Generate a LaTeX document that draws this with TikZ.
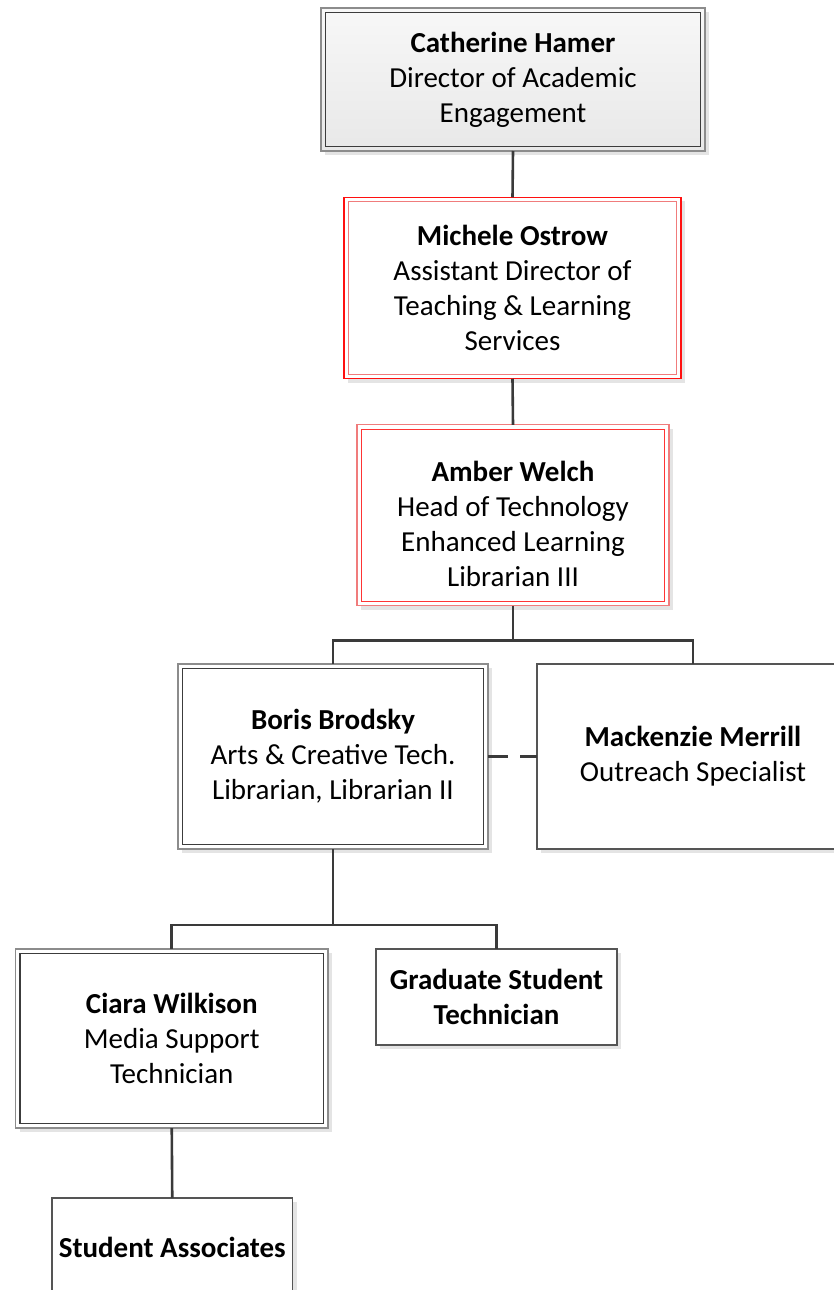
\documentclass[tikz,border=0pt]{standalone}
\usepackage{fontspec}
\setmainfont{Carlito}
\usetikzlibrary{shadows}
\definecolor{lineC}{HTML}{3A3A3A}
\definecolor{outerG}{HTML}{8C8C8C}
\definecolor{innerG}{HTML}{3C3C3C}
\definecolor{singleG}{HTML}{555555}
\definecolor{shadowC}{HTML}{E4E4E4}
\definecolor{redA}{HTML}{FF1010}
\definecolor{redB}{HTML}{F07C7C}
\begin{document}
\begin{tikzpicture}[x=1pt,y=-1pt,
  box/.style={rectangle, inner sep=0pt, outer sep=0pt, fill=white,
    drop shadow={shadow xshift=4pt, shadow yshift=-4pt, fill=shadowC, opacity=1}},
  graybox/.style={box, draw=outerG, line width=1.3pt},
  redbox/.style={box, draw=#1, line width=1.3pt},
  singlebox/.style={box, draw=singleG, line width=1.2pt},
  innerline/.style={draw=#1, line width=1.2pt},
  txt/.style={align=center, font=\fontsize{29}{35}\selectfont, inner sep=0pt},
  conn/.style={draw=lineC, line width=2.6pt},
  dashconn/.style={conn, dash pattern=on 20pt off 12pt}]
\useasboundingbox (0,0) rectangle (833,1290);

% boxes
\node[graybox, top color=black!3, bottom color=black!9, minimum width=384, minimum height=143] (cath) at (513,79.5) {};
\node[redbox=redA, minimum width=337, minimum height=181.5] (mich) at (512.5,288) {};
\node[redbox=redB, minimum width=312, minimum height=181] (amber) at (513,515.3) {};
\node[graybox, minimum width=310, minimum height=185] (boris) at (333,756.5) {};
\node[singlebox, minimum width=312, minimum height=185] (mack) at (693,756.5) {};
\node[graybox, minimum width=312.5, minimum height=179] (ciara) at (171.75,1038.5) {};
\node[singlebox, minimum width=241, minimum height=96] (grad) at (496.5,997) {};
\node[singlebox, minimum width=240.5, minimum height=98] (stud) at (172.25,1247) {};

% inner borders
\draw[innerline=innerG] ([shift={(4.5,4.5)}]cath.north west) rectangle ([shift={(-4.5,-4.5)}]cath.south east);
\draw[innerline=redB] ([shift={(4.5,4.5)}]mich.north west) rectangle ([shift={(-4.5,-4.5)}]mich.south east);
\draw[innerline=redA!85] ([shift={(4.5,4.5)}]amber.north west) rectangle ([shift={(-4.5,-4.5)}]amber.south east);
\draw[innerline=innerG] ([shift={(4.5,4.5)}]boris.north west) rectangle ([shift={(-4.5,-4.5)}]boris.south east);
\draw[innerline=innerG] ([shift={(4.5,4.5)}]ciara.north west) rectangle ([shift={(-4.5,-4.5)}]ciara.south east);

% texts
\node[txt] (cath-t) at (cath) {\textbf{Catherine Hamer}\\Director of Academic\\Engagement};
\node[txt] (mich-t) at (mich) {\textbf{Michele Ostrow}\\Assistant Director of\\Teaching \& Learning\\Services};
\node[txt, yshift=-9pt] (amber-t) at (amber) {\textbf{Amber Welch}\\Head of Technology\\Enhanced Learning\\Librarian III};
\node[txt] (boris-t) at (boris) {\textbf{Boris Brodsky}\\Arts \& Creative Tech.\\Librarian, Librarian II};
\node[txt] (mack-t) at (mack) {\textbf{Mackenzie Merrill}\\Outreach Specialist};
\node[txt] (ciara-t) at (ciara) {\textbf{Ciara Wilkison}\\Media Support\\Technician};
\node[txt] (grad-t) at (grad) {\textbf{Graduate Student}\\\textbf{Technician}};
\node[txt] (stud-t) at (stud) {\textbf{Student Associates}};

% connectors
\draw[conn] (cath.south) -- (mich.north);
\draw[conn] (mich.south) -- (amber.north);
\path (amber.south) ++(0,34.5) coordinate (j1);
\draw[conn] (amber.south) -- (j1) -| (boris.north);
\draw[conn] (j1) -| (mack.north);
\draw[dashconn] (boris.east) -- (mack.west);
\path (boris.south) ++(0,76) coordinate (j2);
\draw[conn] (boris.south) -- (j2) -| (ciara.north);
\draw[conn] (j2) -| (grad.north);
\draw[conn] (ciara.south) -- (stud.north);
\end{tikzpicture}
\end{document}
